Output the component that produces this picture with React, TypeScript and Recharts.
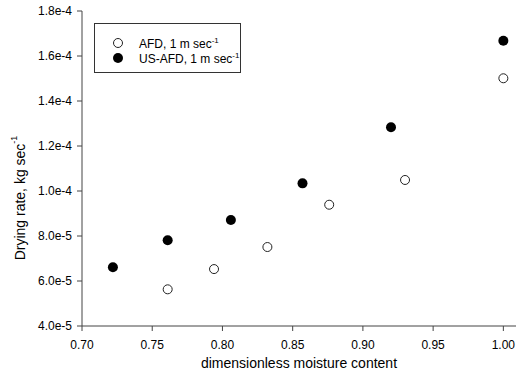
import { ScatterChart, Scatter, XAxis, YAxis } from "recharts";

const afdX = [0.761, 0.794, 0.832, 0.876, 0.93, 1.0];
const afdY = [5.63e-5, 6.53e-5, 7.51e-5, 9.39e-5, 1.049e-4, 1.501e-4];

const usAfdX = [0.722, 0.761, 0.806, 0.857, 0.92, 1.0];
const usAfdY = [6.61e-5, 7.81e-5, 8.71e-5, 1.034e-4, 1.283e-4, 1.668e-4];

const xTicks = [0.7, 0.75, 0.8, 0.85, 0.9, 0.95, 1.0];
const yTicks = [4e-5, 6e-5, 8e-5, 1e-4, 1.2e-4, 1.4e-4, 1.6e-4, 1.8e-4];

const afd = afdX.map((x, i) => ({ x, y: afdY[i] }));
const usAfd = usAfdX.map((x, i) => ({ x, y: usAfdY[i] }));

const FONT = "'Liberation Sans', Arial, sans-serif";
const AXIS = "#444";

const OpenDot = (props: any) => (
  <circle cx={props.cx} cy={props.cy} r={4.5} fill="#fff" stroke="#222" strokeWidth={1} />
);
const FilledDot = (props: any) => (
  <circle cx={props.cx} cy={props.cy} r={5} fill="#000" stroke="none" />
);

const XTick = (props: any) => (
  <text x={props.x} y={349} textAnchor="middle" fontSize={12} fill="#000">
    {Number(props.payload.value).toFixed(2)}
  </text>
);

function LegendBox() {
  const row = (filled: boolean, label: string) => (
    <div style={{ display: "flex", alignItems: "center", height: 15, whiteSpace: "nowrap" }}>
      <svg width={12} height={12} style={{ marginLeft: 17, marginRight: 15 }}>
        {filled ? (
          <circle cx={6} cy={6} r={5} fill="#000" />
        ) : (
          <circle cx={6} cy={6} r={4.5} fill="#fff" stroke="#222" />
        )}
      </svg>
      <span>
        {label}
        <sup style={{ fontSize: 8, verticalAlign: 5 }}>-1</sup>
      </span>
    </div>
  );
  return (
    <div
      style={{
        position: "absolute",
        left: 94,
        top: 23,
        width: 147,
        height: 50,
        border: "1px solid #333",
        boxSizing: "border-box",
        paddingTop: 11,
        fontFamily: FONT,
        fontSize: 12,
        lineHeight: "15px",
        color: "#000",
        background: "#fff",
      }}
    >
      {row(false, "AFD, 1 m sec")}
      {row(true, "US-AFD, 1 m sec")}
    </div>
  );
}

export default function App() {
  return (
    <div
      style={{
        position: "fixed",
        left: 0,
        top: 0,
        width: 516,
        height: 383,
        overflow: "hidden",
        background: "#fff",
      }}
    >
      <ScatterChart
        width={516}
        height={383}
        margin={{ top: 11, right: 0, bottom: 0, left: 0 }}
        style={{ fontFamily: FONT }}
      >
        <XAxis
          xAxisId="top"
          orientation="top"
          type="number"
          dataKey="x"
          domain={[0.7, 1.009]}
          allowDataOverflow
          height={0}
          tick={false}
          tickLine={false}
          axisLine={{ stroke: AXIS }}
        />
        <XAxis
          type="number"
          dataKey="x"
          domain={[0.7, 1.009]}
          allowDataOverflow
          ticks={xTicks}
          interval={0}
          height={57}
          tickSize={5}
          axisLine={{ stroke: AXIS }}
          tickLine={{ stroke: AXIS }}
          tick={XTick}
          label={{
            value: "dimensionless moisture content",
            position: "insideBottom",
            offset: 15,
            fill: "#000",
            fontSize: 14,
          }}
        />
        <YAxis
          type="number"
          dataKey="y"
          domain={[4e-5, 1.8e-4]}
          ticks={yTicks}
          interval={0}
          tickFormatter={(v: number) => v.toExponential(1)}
          width={82}
          tickSize={5}
          tickMargin={5}
          axisLine={{ stroke: AXIS }}
          tickLine={{ stroke: AXIS }}
          tick={{ fill: "#000", fontSize: 12 }}
          label={() => (
            <text
              x={20}
              y={198}
              transform="rotate(-90 20 198)"
              textAnchor="middle"
              dominantBaseline="central"
              fontSize={14}
              fill="#000"
            >
              Drying rate, kg sec
              <tspan fontSize={9} dy={-6}>
                -1
              </tspan>
            </text>
          )}
        />
        <Scatter name="AFD" data={afd} shape={OpenDot} isAnimationActive={false} />
        <Scatter name="US-AFD" data={usAfd} shape={FilledDot} isAnimationActive={false} />
      </ScatterChart>
      <LegendBox />
    </div>
  );
}
